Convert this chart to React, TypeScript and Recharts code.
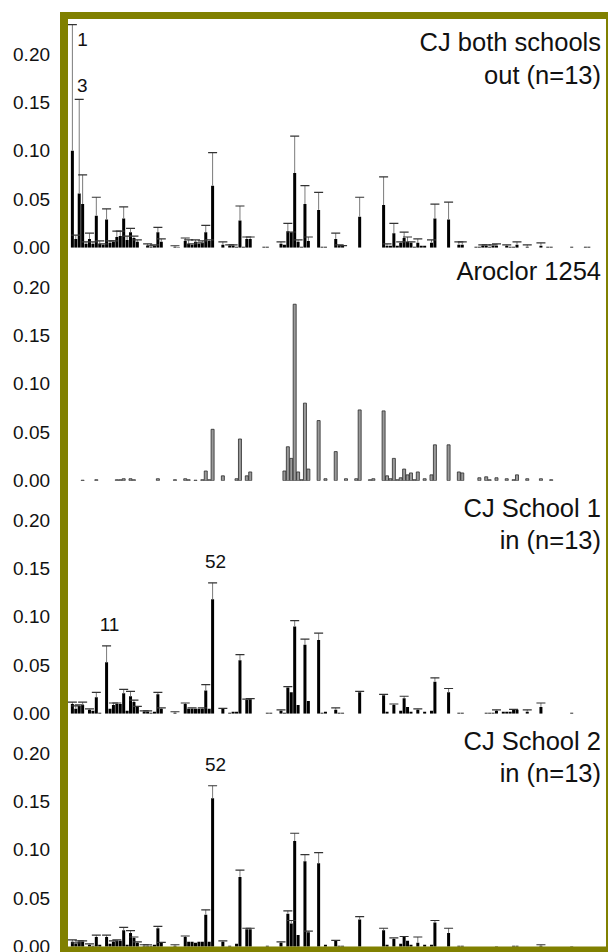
import React from 'react';
import { BarChart, Bar, XAxis, YAxis, LabelList } from 'recharts';

// peak order along the chromatogram (labels not shown on the axis)
const N = 153;
const peakIds = Array.from({ length: N }, (_, i) => `P${i + 1}`);

const yTicks = [0, 0.05, 0.1, 0.15, 0.2];

// CJ both schools out (n=13): mean and mean+SD
const bothOut = [
  0.100, 0.009, 0.056, 0.045, 0.004, 0.009, 0.004, 0.033, 0.004, 0.003,
  0.029, 0.005, 0.006, 0.011, 0.012, 0.030, 0.008, 0.016, 0.010, 0.006,
  0, 0, 0.002, 0.001, 0.002, 0.016, 0.006, 0, 0, 0,
  0.001, 0.0005, 0, 0.007, 0.004, 0.003, 0.006, 0.004, 0.005, 0.016,
  0.007, 0.064, 0, 0, 0.003, 0, 0.002, 0.002, 0.001, 0.028,
  0.001, 0.009, 0.009, 0, 0, 0, 0.001, 0.001, 0, 0,
  0, 0.004, 0.003, 0.017, 0.016, 0.077, 0.006, 0.001, 0.045, 0.007,
  0, 0, 0.039, 0.001, 0.001, 0, 0, 0.009, 0.002, 0.002,
  0, 0, 0, 0, 0.032, 0, 0, 0, 0, 0,
  0, 0.044, 0.002, 0.002, 0.015, 0.002, 0.005, 0.010, 0.006, 0.005,
  0.001, 0.005, 0.002, 0.002, 0, 0.005, 0.030, 0, 0, 0,
  0.029, 0, 0, 0.003, 0.003, 0, 0, 0, 0.001, 0.001,
  0.002, 0.002, 0.001, 0.002, 0.002, 0, 0, 0.002, 0.001, 0.001,
  0.003, 0, 0, 0.001, 0, 0, 0, 0.002, 0, 0.001,
  0.001, 0, 0, 0, 0, 0, 0.001, 0, 0, 0,
  0.001, 0.001, 0,
];
const bothOutUpper = [
  0.230, 0.013, 0.153, 0.075, 0.006, 0.015, 0.006, 0.052, 0.007, 0.004,
  0.040, 0.007, 0.007, 0.017, 0.017, 0.042, 0.012, 0.020, 0.012, 0.008,
  0, 0, 0.004, 0.002, 0.003, 0.021, 0.009, 0, 0, 0,
  0.002, 0, 0, 0.010, 0.008, 0.004, 0.008, 0.005, 0.007, 0.023,
  0.008, 0.098, 0, 0, 0.006, 0, 0.003, 0.003, 0, 0.043,
  0, 0.011, 0.011, 0, 0, 0, 0, 0, 0, 0,
  0, 0.006, 0, 0.025, 0.016, 0.115, 0.008, 0, 0.064, 0.011,
  0, 0, 0.057, 0, 0, 0, 0, 0.015, 0.003, 0.002,
  0, 0, 0, 0, 0.052, 0, 0, 0, 0, 0,
  0, 0.073, 0.004, 0, 0.025, 0, 0.006, 0.016, 0.011, 0.006,
  0, 0.009, 0, 0, 0, 0.008, 0.045, 0, 0, 0,
  0.047, 0, 0, 0.006, 0.006, 0, 0, 0, 0, 0,
  0.003, 0.003, 0, 0.003, 0.004, 0, 0, 0.003, 0, 0,
  0.006, 0, 0, 0.003, 0, 0, 0, 0.005, 0, 0,
  0, 0, 0, 0, 0, 0, 0, 0, 0, 0,
  0, 0, 0,
];

// Aroclor 1254 reference profile
const aroclor1254 = [
  0, 0, 0, 0.0005, 0, 0, 0, 0.001, 0, 0,
  0, 0, 0, 0.001, 0.001, 0.002, 0, 0.002, 0.001, 0,
  0, 0, 0, 0, 0, 0.002, 0, 0, 0, 0,
  0.001, 0, 0, 0.002, 0.001, 0, 0.0005, 0, 0.001, 0.010,
  0.001, 0.053, 0, 0, 0.005, 0, 0, 0, 0.002, 0.043,
  0, 0.005, 0.009, 0, 0, 0, 0, 0, 0, 0,
  0, 0, 0.010, 0.035, 0.023, 0.182, 0.009, 0.001, 0.080, 0.012,
  0, 0, 0.062, 0, 0.002, 0, 0, 0.030, 0, 0,
  0.002, 0, 0, 0.002, 0.073, 0, 0, 0.001, 0.002, 0,
  0, 0.072, 0.005, 0.002, 0.023, 0.001, 0.003, 0.012, 0.006, 0.008,
  0.001, 0.009, 0, 0.002, 0, 0.006, 0.037, 0, 0, 0,
  0.037, 0, 0, 0.009, 0.008, 0, 0, 0, 0, 0.003,
  0, 0.004, 0.001, 0, 0.003, 0, 0, 0.002, 0, 0.001,
  0.006, 0, 0, 0.002, 0, 0, 0, 0.002, 0, 0,
  0.001, 0, 0, 0, 0, 0, 0, 0, 0, 0,
  0, 0, 0,
];

// CJ School 1 in (n=13)
const school1 = [
  0.010, 0.005, 0.008, 0.009, 0, 0.004, 0.003, 0.017, 0.001, 0,
  0.053, 0.005, 0.009, 0.010, 0.010, 0.021, 0.003, 0.018, 0.012, 0.007,
  0, 0.002, 0.002, 0.001, 0.002, 0.020, 0.005, 0, 0, 0,
  0.001, 0, 0, 0.010, 0.005, 0.005, 0.005, 0.005, 0.005, 0.024,
  0.005, 0.118, 0, 0, 0.005, 0, 0.001, 0.002, 0.002, 0.055,
  0, 0.014, 0.015, 0, 0, 0, 0, 0.001, 0.001, 0,
  0, 0.003, 0.001, 0.027, 0.022, 0.090, 0.009, 0, 0.071, 0.013,
  0, 0, 0.076, 0.001, 0.002, 0, 0, 0.004, 0.001, 0.001,
  0, 0, 0, 0, 0.022, 0, 0, 0, 0, 0,
  0, 0.019, 0.002, 0, 0.009, 0, 0.003, 0.016, 0.007, 0.002,
  0, 0.004, 0, 0.002, 0, 0.003, 0.033, 0, 0, 0,
  0.022, 0, 0, 0.001, 0.001, 0, 0, 0, 0, 0,
  0, 0.001, 0.001, 0.001, 0.003, 0, 0.002, 0.002, 0.002, 0.004,
  0.004, 0, 0, 0.002, 0, 0, 0, 0.007, 0, 0,
  0, 0, 0, 0, 0, 0, 0.001, 0, 0, 0,
  0, 0, 0,
];
const school1Upper = [
  0.012, 0.008, 0.009, 0.012, 0, 0.005, 0, 0.022, 0, 0,
  0.070, 0, 0.011, 0.011, 0, 0.025, 0, 0.023, 0.014, 0.0075,
  0, 0.003, 0.003, 0, 0, 0.022, 0.006, 0, 0, 0,
  0.002, 0, 0, 0.011, 0, 0.006, 0, 0, 0.006, 0.030,
  0, 0.135, 0, 0, 0.0055, 0, 0, 0, 0, 0.061,
  0, 0.015, 0.0155, 0, 0, 0, 0, 0, 0, 0,
  0, 0.004, 0, 0.028, 0, 0.096, 0, 0, 0.077, 0,
  0, 0, 0.083, 0, 0, 0, 0, 0.006, 0, 0,
  0, 0, 0, 0, 0.023, 0, 0, 0, 0, 0,
  0, 0.020, 0, 0, 0.010, 0, 0, 0.018, 0, 0,
  0, 0.005, 0, 0, 0, 0, 0.037, 0, 0, 0,
  0.026, 0, 0, 0, 0, 0, 0, 0, 0, 0,
  0, 0, 0, 0, 0.004, 0, 0, 0, 0, 0.0045,
  0, 0, 0, 0.004, 0, 0, 0, 0.011, 0, 0,
  0, 0, 0, 0, 0, 0, 0, 0, 0, 0,
  0, 0, 0,
];

// CJ School 2 in (n=13)
const school2 = [
  0.005, 0.003, 0.005, 0.005, 0, 0.002, 0.001, 0.010, 0.002, 0,
  0.010, 0.003, 0.005, 0.006, 0.006, 0.017, 0.002, 0.014, 0.009, 0.004,
  0, 0.001, 0.001, 0.001, 0.002, 0.019, 0.004, 0, 0, 0,
  0.001, 0, 0, 0.010, 0.005, 0.005, 0.004, 0.005, 0.005, 0.033,
  0.005, 0.153, 0, 0, 0.005, 0, 0.001, 0, 0.003, 0.072,
  0, 0.018, 0.018, 0, 0, 0, 0, 0.001, 0, 0,
  0, 0.004, 0, 0.034, 0.024, 0.109, 0.012, 0, 0.088, 0.015,
  0, 0, 0.086, 0, 0.002, 0, 0, 0.006, 0.001, 0.001,
  0, 0, 0, 0, 0.028, 0, 0, 0, 0, 0,
  0, 0.017, 0.002, 0, 0.008, 0, 0.003, 0.010, 0.006, 0.002,
  0, 0.004, 0, 0.002, 0, 0.002, 0.025, 0, 0, 0,
  0.014, 0, 0, 0.001, 0.001, 0, 0, 0, 0, 0,
  0, 0, 0, 0, 0.0005, 0, 0, 0, 0, 0.001,
  0.001, 0, 0, 0, 0, 0, 0, 0.001, 0, 0,
  0, 0, 0, 0, 0, 0, 0.0005, 0, 0, 0,
  0, 0, 0,
];
const school2Upper = [
  0.007, 0.004, 0.006, 0.006, 0, 0.003, 0, 0.012, 0, 0,
  0.012, 0, 0.006, 0.007, 0, 0.020, 0, 0.0165, 0.010, 0.005,
  0, 0.002, 0.002, 0, 0, 0.021, 0.0045, 0, 0, 0,
  0.002, 0, 0, 0.011, 0, 0, 0, 0, 0, 0.038,
  0, 0.166, 0, 0, 0.006, 0, 0, 0, 0, 0.079,
  0, 0.019, 0.019, 0, 0, 0, 0, 0, 0, 0,
  0, 0.005, 0, 0.037, 0.027, 0.117, 0, 0, 0.095, 0.016,
  0, 0, 0.097, 0, 0, 0, 0, 0.0065, 0, 0,
  0, 0, 0, 0, 0.031, 0, 0, 0, 0, 0,
  0, 0.019, 0, 0, 0.009, 0, 0, 0.0105, 0, 0,
  0, 0.010, 0, 0, 0, 0, 0.027, 0, 0, 0,
  0.019, 0, 0, 0, 0, 0, 0, 0, 0, 0,
  0, 0, 0, 0, 0, 0, 0, 0, 0, 0,
  0, 0, 0, 0, 0, 0, 0, 0.002, 0, 0,
  0, 0, 0, 0, 0, 0, 0, 0, 0, 0,
  0, 0, 0,
];

// congener numbers written above some peaks
const bothOutTags = [{ at: 0, text: '1' }, { at: 2, text: '3' }];
const school1Tags = [{ at: 10, text: '11' }, { at: 41, text: '52' }];
const school2Tags = [{ at: 41, text: '52' }];

const panels = [
  { title: ['CJ both schools', 'out (n=13)'], mean: bothOut, upper: bothOutUpper, tags: bothOutTags, hollow: false },
  { title: ['Aroclor 1254'], mean: aroclor1254, upper: null, tags: [], hollow: true },
  { title: ['CJ School 1', 'in (n=13)'], mean: school1, upper: school1Upper, tags: school1Tags, hollow: false },
  { title: ['CJ School 2', 'in (n=13)'], mean: school2, upper: school2Upper, tags: school2Tags, hollow: false },
];

const FONT = '"Liberation Sans", Arial, Helvetica, sans-serif';
const OLIVE = '#808000';
const PANEL_H = 232.7;
const FIRST_TOP = 15.4;
const PAD = 14;

const tagOffset: Record<string, { dx: number; dy: number; anchor: string }> = {
  '1': { dx: 5, dy: 21, anchor: 'start' },
  '3': { dx: 3, dy: -7, anchor: 'middle' },
};

const Whisker = (props: any) => {
  const { x, y, width, height } = props;
  if (!height || height <= 0) return null;
  const cx = x + width / 2;
  return (
    <g>
      <line x1={cx} y1={y + height} x2={cx} y2={y} stroke="#7a7a7a" strokeWidth={1} />
      <line x1={cx - 4.5} y1={y} x2={cx + 4.5} y2={y} stroke="#333" strokeWidth={1.2} />
    </g>
  );
};

const renderTag = (props: any) => {
  const { x, y, width, value } = props;
  if (!value) return null;
  const o = tagOffset[value] || { dx: 3, dy: -15, anchor: 'middle' };
  return (
    <text x={x + width / 2 + o.dx} y={y + o.dy} textAnchor={o.anchor} fontSize={19} fontFamily={FONT} fill="#111">
      {value}
    </text>
  );
};

const Panel = ({ panel }: { panel: (typeof panels)[number] }) => {
  const rows = peakIds.map((id, i) => {
    const tag = panel.tags.find((t) => t.at === i);
    const up = panel.upper ? panel.upper[i] : 0;
    return {
      id,
      mean: panel.mean[i],
      whisker: up > 0 ? Math.max(up - panel.mean[i], 0.0002) : 0,
      tag: tag ? tag.text : '',
    };
  });

  return (
    <BarChart
      width={608}
      height={PANEL_H + PAD * 2}
      data={rows}
      margin={{ top: PAD, right: 13.9, bottom: PAD, left: 0 }}
      barCategoryGap="2%"
    >
      <XAxis
        dataKey="id"
        height={0}
        tick={false}
        tickLine={false}
        axisLine={{ stroke: '#444', strokeWidth: 1 }}
        padding={{ left: 2.8, right: 0 }}
      />
      <YAxis
        width={68}
        domain={[0, 0.24]}
        ticks={yTicks}
        allowDataOverflow
        axisLine={false}
        tickLine={false}
        tickSize={0}
        tickMargin={18}
        tickFormatter={(v: number) => v.toFixed(2)}
        tick={{ fontSize: 19, fontFamily: FONT, fill: '#111' }}
      />
      {panel.hollow ? (
        <Bar dataKey="mean" fill="#9a9a9a" stroke="#2a2a2a" strokeWidth={0.8} isAnimationActive={false} />
      ) : (
        <Bar dataKey="mean" stackId="s" fill="#000" isAnimationActive={false} />
      )}
      {!panel.hollow && (
        <Bar dataKey="whisker" stackId="s" shape={<Whisker />} isAnimationActive={false}>
          <LabelList dataKey="tag" content={renderTag} />
        </Bar>
      )}
    </BarChart>
  );
};

export default function App() {
  return (
    <div style={{ position: 'absolute', left: 0, top: 0, width: 608, height: 952, background: '#fff', overflow: 'hidden', fontFamily: FONT }}>
      {panels.map((p, k) => (
        <div key={k} style={{ position: 'absolute', left: 0, top: FIRST_TOP + k * PANEL_H - PAD }}>
          <Panel panel={p} />
        </div>
      ))}
      <svg width={608} height={952} style={{ position: 'absolute', left: 0, top: 0, pointerEvents: 'none' }}>
        <rect x={60} y={12} width={8} height={945} fill={OLIVE} />
        <rect x={60} y={12} width={548} height={7} fill={OLIVE} />
        <rect x={606} y={12} width={2} height={945} fill={OLIVE} />
        <rect x={60} y={946.5} width={548} height={8} fill={OLIVE} />
        {panels.map((p, k) => {
          const top = FIRST_TOP + k * PANEL_H;
          const first = p.title.length === 1 ? top + 32 : top + 36;
          return p.title.map((line, j) => (
            <text key={`${k}-${j}`} x={601} y={first + j * 32.5} textAnchor="end" fontSize={25.5} fontFamily={FONT} fill="#111">
              {line}
            </text>
          ));
        })}
      </svg>
    </div>
  );
}
